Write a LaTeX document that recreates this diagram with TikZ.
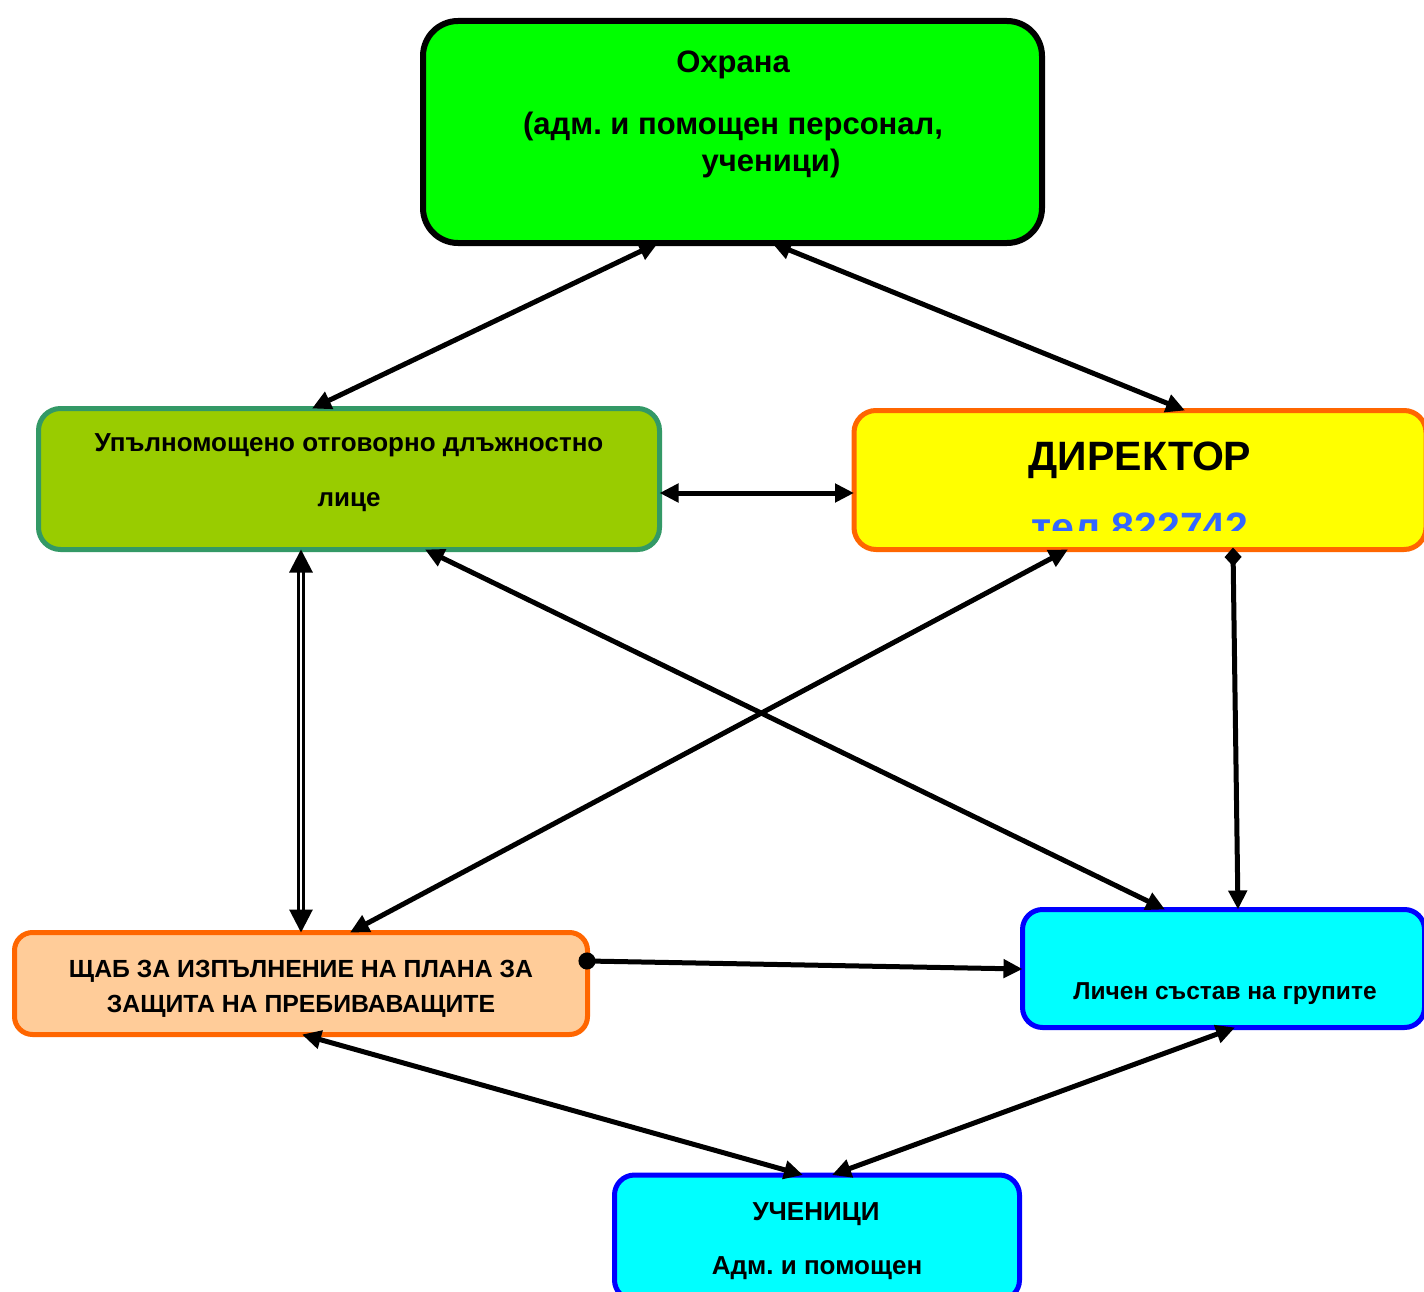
\documentclass[tikz,border=0pt]{standalone}
\usepackage{fontspec}
\setmainfont{Liberation Sans}
\usetikzlibrary{arrows.meta}
\frenchspacing
\def\fsz#1{\fontsize{#1}{#1}\selectfont\bfseries}
\definecolor{ohranagreen}{HTML}{00FF00}
\definecolor{uplfill}{HTML}{99CC00}
\definecolor{upldraw}{HTML}{339966}
\definecolor{orangeline}{HTML}{FF6600}
\definecolor{shtabfill}{HTML}{FFCC99}
\definecolor{telblue}{HTML}{3366FF}
\definecolor{dirfill}{HTML}{FFFF00}
\definecolor{groupfill}{HTML}{00FFFF}
\definecolor{groupline}{HTML}{0000FF}
\tikzset{
	box/.style={draw, line width=5pt, inner sep=0pt, outer sep=0pt, rounded corners=22pt},
	link/.style={line width=5pt, {Triangle[length=19pt,width=18pt]}-{Triangle[length=19pt,width=18pt]}},
	dbl/.style={line width=3pt, double=white, double distance=2.5pt, {Triangle[length=23pt,width=23pt]}-{Triangle[length=23pt,width=23pt]}},
	txt/.style={anchor=base, inner sep=0pt}
}

\begin{document}
\begin{tikzpicture}[x=1pt, y=-1pt]
	%%%%% START %%%%%
	\useasboundingbox (0,0) rectangle (1424,1292);
	\fill[white] (0,0) rectangle (1424,1292);
	
	% boxes
	\node[box, line width=6pt, rounded corners=35pt, fill=ohranagreen, minimum width=619pt, minimum height=222pt] (ohrana) at (732.5,132) {};
	\node[box, draw=upldraw, fill=uplfill, minimum width=621pt, minimum height=141pt] (upl) at (349,479) {};
	\node[box, draw=orangeline, fill=dirfill, minimum width=572pt, minimum height=139pt] (director) at (1140,480) {};
	\node[box, draw=orangeline, fill=shtabfill, rounded corners=18pt, minimum width=573pt, minimum height=102pt] (shtab) at (301,983.5) {};
	\node[box, draw=groupline, fill=groupfill, rounded corners=20pt, minimum width=402pt, minimum height=118pt] (lichen) at (1223.5,968.5) {};
	\node[box, draw=groupline, fill=groupfill, rounded corners=20pt, minimum width=405pt, minimum height=125pt] (uchenici) at (817,1237.5) {};
	
	% texts
	\node[txt, font={\fsz{31}}] (ohranaT) at (733,73) {Охрана};
	\node[txt, font={\fsz{31}}] (ohranaS) at (733,135) {(адм. и помощен персонал,};
	\node[txt, font={\fsz{31}}] (ohranaU) at (771,172) {ученици)};
	\node[txt, font={\fsz{26}}] (uplT) at (349,451) {Упълномощено отговорно длъжностно};
	\node[txt, font={\fsz{26}}] (uplL) at (349,506) {лице};
	\node[txt, font={\fsz{41}}] (directorT) at (1140,470) {ДИРЕКТОР};
	\begin{scope}
		\clip (854,500) rectangle (1426,530);
		\node[txt, font={\fsz{41}}, text=telblue] (directorTel) at (1140,541) {тел 822742};
	\end{scope}
	\node[txt, font={\fsz{24.8}}] (shtabA) at (301,977) {ЩАБ ЗА ИЗПЪЛНЕНИЕ НА ПЛАНА ЗА};
	\node[txt, font={\fsz{24.8}}] (shtabB) at (301,1012) {ЗАЩИТА НА ПРЕБИВАВАЩИТЕ};
	\node[txt, font={\fsz{24.5}}] (lichenT) at (1225,999) {Личен състав на групите};
	\node[txt, font={\fsz{26}}] (uchA) at (816,1220) {УЧЕНИЦИ};
	\node[txt, font={\fsz{26}}] (uchB) at (817,1274) {Адм. и помощен};
	
	% connectors
	\draw[link] ([xshift=-37pt]upl.north) -- ([xshift=-74.5pt]ohrana.south);
	\draw[link] ([xshift=39.5pt]ohrana.south) -- ([xshift=45pt]director.north);
	\draw[link] ([yshift=-14pt]upl.east) -- ([yshift=-13pt]director.west);
	\draw[dbl] (upl.south -| shtab.north) -- (shtab.north);
	\draw[link] ([xshift=76pt]upl.south) -- ([xshift=-58.5pt]lichen.north);
	\draw[link] ([xshift=-72pt]director.south) -- ([xshift=49pt]shtab.north);
	\draw[link, {Diamond[length=19pt,width=17pt]}-{Triangle[length=19pt,width=18pt]}, shorten <=-2pt] ([xshift=93pt]director.south) -- ([xshift=14.5pt]lichen.north);
	\draw[link, {Circle[length=17pt]}-{Triangle[length=19pt,width=18pt]}, shorten <=-9pt] ([yshift=22.5pt]shtab.east) -- ([yshift=-0.5pt]lichen.west);
	\draw[link] ([xshift=1pt]shtab.south) -- ([xshift=-14pt]uchenici.north);
	\draw[link] ([xshift=11.5pt]lichen.south) -- ([xshift=15pt]uchenici.north);
	%%%%% END %%%%%
\end{tikzpicture}
\end{document}
